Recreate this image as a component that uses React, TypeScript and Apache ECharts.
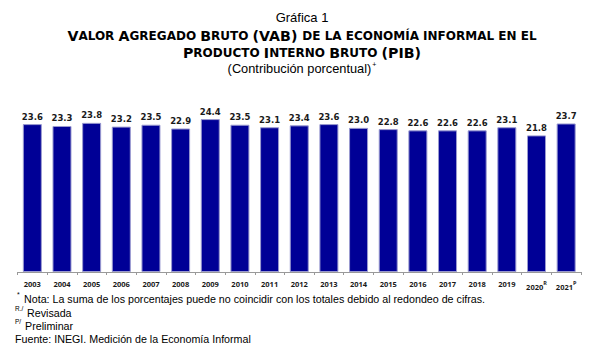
import React, { useEffect, useRef } from "react";
import * as echarts from "echarts";

const years = ["2003","2004","2005","2006","2007","2008","2009","2010","2011","2012","2013","2014","2015","2016","2017","2018","2019","2020","2021"];
const marks = ["","","","","","","","","","","","","","","","","","R","P"];
const values = [23.6,23.3,23.8,23.2,23.5,22.9,24.4,23.5,23.1,23.4,23.6,23.0,22.8,22.6,22.6,22.6,23.1,21.8,23.7];

const titleTop = "Gráfica 1";
const titleLine1 = "Valor Agregado Bruto (VAB) de la economía informal en el";
const titleLine2 = "Producto Interno Bruto (PIB)";
const subtitle = "(Contribución porcentual)";
const noteText = "Nota: La suma de los porcentajes puede no coincidir con los totales debido al redondeo de cifras.";
const revText = "Revisada";
const preText = "Preliminar";
const sourceText = "Fuente: INEGI. Medición de la Economía Informal";

function smallCaps(t: string): string {
  let out = "";
  let cur = "";
  let curSmall: boolean | null = null;
  for (const ch of t) {
    const isSmall = ch !== ch.toUpperCase() || (ch === " " && curSmall === true);
    if (curSmall !== null && isSmall !== curSmall) {
      out += `{${curSmall ? "s" : "b"}|${cur}}`;
      cur = "";
    }
    curSmall = isSmall;
    cur += ch.toUpperCase();
  }
  if (cur) out += `{${curSmall ? "s" : "b"}|${cur}}`;
  return out;
}

export default function App() {
  const ref = useRef<HTMLDivElement>(null);
  useEffect(() => {
    const chart = echarts.init(ref.current!, null, { renderer: "svg" });
    const capsRich = {
      b: { fontFamily: "DejaVu Sans", fontWeight: "bold", fontSize: 14.2, lineHeight: 14, color: "#000" },
      s: { fontFamily: "DejaVu Sans", fontWeight: "bold", fontSize: 12, lineHeight: 14, color: "#000" },
    };
    const foot = { fontFamily: "Liberation Sans", fontSize: 10.7, color: "#000" };
    chart.setOption({
      animation: false,
      grid: { left: 17.5, right: 23, top: 84, bottom: 82, containLabel: false },
      xAxis: {
        type: "category",
        data: years,
        axisLine: { lineStyle: { color: "#999", width: 1 } },
        axisTick: { show: true, length: 3, lineStyle: { color: "#999" } },
        axisLabel: {
          interval: 0,
          margin: 8,
          formatter: (v: string, i: number) => (marks[i] ? `{a|${v}}{s|${marks[i]}}` : `{a|${v}}`),
          rich: {
            a: { fontFamily: "Open Sans", fontWeight: "bold", fontSize: 7.5, color: "#1a1a1a" },
            s: { fontFamily: "Open Sans", fontWeight: "bold", fontSize: 5.5, color: "#1a1a1a", padding: [0, 0, 8, 0] },
          },
        },
      },
      yAxis: {
        type: "value",
        min: 0,
        max: 30,
        show: false,
        splitLine: { show: false },
      },
      series: [
        {
          type: "bar",
          data: values,
          barWidth: 19,
          itemStyle: { color: "#000096", borderColor: "#9a9ad0", borderWidth: 1 },
          label: {
            show: true,
            position: "top",
            distance: 3,
            formatter: (p: any) => p.value.toFixed(1),
            fontFamily: "DejaVu Sans",
            fontWeight: "bold",
            fontSize: 8.5,
            color: "#1a1a1a",
          },
        },
      ],
      graphic: [
        { type: "text", left: "center", top: 11, style: { text: titleTop, fontFamily: "Liberation Sans", fontSize: 13, fill: "#000" } },
        { type: "text", left: "center", top: 29, style: { text: smallCaps(titleLine1), rich: capsRich } },
        { type: "text", left: "center", top: 46, style: { text: smallCaps(titleLine2), rich: capsRich } },
        {
          type: "text", left: "center", top: 61,
          style: {
            text: `{a|${subtitle}}{s|+}`,
            rich: {
              a: { fontFamily: "Liberation Sans", fontSize: 12.8, fill: "#000" },
              s: { fontFamily: "Liberation Sans", fontSize: 7, fill: "#000", padding: [0, 0, 7, 1] },
            },
          },
        },
        { type: "text", x: 17, y: 291, style: { text: "*", fontFamily: "Liberation Sans", fontSize: 7, fill: "#000" } },
        { type: "text", x: 24, y: 293, style: { text: noteText, ...foot, fill: "#000" } },
        { type: "text", x: 15, y: 305, style: { text: "R./", fontFamily: "Liberation Sans", fontSize: 6.5, fill: "#000" } },
        { type: "text", x: 27, y: 307, style: { text: revText, ...foot, fill: "#000" } },
        { type: "text", x: 15, y: 318, style: { text: "P/", fontFamily: "Liberation Sans", fontSize: 6.5, fill: "#000" } },
        { type: "text", x: 25, y: 320, style: { text: preText, ...foot, fill: "#000" } },
        { type: "text", x: 15, y: 333, style: { text: sourceText, ...foot, fill: "#000" } },
      ],
    });
    return () => chart.dispose();
  }, []);
  return <div ref={ref} style={{ position: "absolute", left: 0, top: 0, width: 604, height: 354 }} />;
}
